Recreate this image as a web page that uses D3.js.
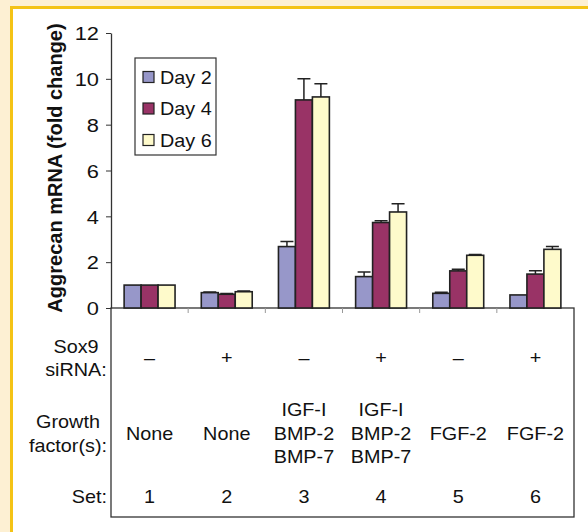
<!DOCTYPE html>
<meta charset="utf-8">
<style>
body { margin: 0; background: #fdf0d3; }
svg text { font-family: "Liberation Sans", Arial, sans-serif; fill: #111; }
.bar { stroke: #222; stroke-width: 1.6px; }
.err { stroke: #222; stroke-width: 1.5px; fill: none; }
</style>
<body>
<script src="https://cdn.jsdelivr.net/npm/d3@7"></script>
<script>

// data
var sets = ["1", "2", "3", "4", "5", "6"];
var days = ["Day 2", "Day 4", "Day 6"];
var day2 = [1.0, 0.67, 2.68, 1.37, 0.64, 0.57];
var day4 = [1.0, 0.60, 9.08, 3.73, 1.62, 1.48];
var day6 = [1.0, 0.71, 9.21, 4.19, 2.30, 2.56];
var err2 = [0, 0.03, 0.22, 0.20, 0.05, 0];
var err4 = [0, 0.03, 0.92, 0.08, 0.07, 0.15];
var err6 = [0, 0.03, 0.58, 0.36, 0.04, 0.12];
var sox9 = ["\u2013", "+", "\u2013", "+", "\u2013", "+"];
var factors = [["None"], ["None"], ["IGF-I", "BMP-2", "BMP-7"], ["IGF-I", "BMP-2", "BMP-7"], ["FGF-2"], ["FGF-2"]];
var yTicks = [0, 2, 4, 6, 8, 10, 12];
var colors = ["#9797c9", "#993366", "#fefacb"];

var W = 588, H = 532;
var plotL = 111, plotR = 574, plotT = 33, plotB = 308, boxBottom = 517;

var svg = d3.select("body").append("svg")
    .attr("width", W)
    .attr("height", H);

// cream background with yellow frame, white panel
svg.append("rect").attr("x", 11).attr("y", 7).attr("width", W - 11).attr("height", H - 7)
    .attr("fill", "#fff");
svg.append("path")
    .attr("d", "M11.5," + H + "V7.5H" + W)
    .attr("fill", "none").attr("stroke", "#f4c316").attr("stroke-width", 3);

// scales
var x0 = d3.scaleBand().domain(sets).range([plotL, plotR]).paddingInner(0.34).paddingOuter(0.17);
var x1 = d3.scaleBand().domain(days).range([0, x0.bandwidth()]);
var y = d3.scaleLinear().domain([0, 12]).range([plotB, plotT]);

var rows = sets.map(function(s, i) {
  return {set: s, vals: [day2[i], day4[i], day6[i]], errs: [err2[i], err4[i], err6[i]]};
});

// table box under the axis
svg.append("rect")
    .attr("x", plotL).attr("y", plotB)
    .attr("width", plotR - plotL).attr("height", boxBottom - plotB)
    .attr("fill", "none").attr("stroke", "#333").attr("stroke-width", 1.3);

// category separators on the x axis
var step = x0.step();
svg.selectAll(".xt").data(sets.slice(1)).enter().append("line")
    .attr("x1", function(d) { return x0(d) - x0.paddingInner() * step / 2; })
    .attr("x2", function(d) { return x0(d) - x0.paddingInner() * step / 2; })
    .attr("y1", plotB).attr("y2", plotB + 5)
    .attr("stroke", "#999").attr("stroke-width", 1);

// y axis
var yAxis = svg.append("g")
    .attr("transform", "translate(" + plotL + ",0)")
    .call(d3.axisLeft(y).tickValues(yTicks).tickSize(5).tickPadding(5).tickSizeOuter(0));
yAxis.attr("font-size", 18.5).attr("font-family", null);
yAxis.select(".domain").attr("stroke", "#333").attr("stroke-width", 1.3);
yAxis.selectAll(".tick line").attr("stroke", "#333");
yAxis.selectAll(".tick text")
    .attr("fill", "#111")
    .attr("x", -10.2)
    .attr("dy", "0.36em")
    .attr("transform", "scale(1.18,1)");

// bars
var groups = svg.selectAll(".grp").data(rows).enter().append("g")
    .attr("transform", function(d) { return "translate(" + x0(d.set) + ",0)"; });

groups.selectAll("rect").data(function(d) {
  return d.vals.map(function(v, j) { return {day: days[j], v: v, e: d.errs[j], c: colors[j]}; });
}).enter().append("rect")
    .attr("class", "bar")
    .attr("x", function(d) { return x1(d.day); })
    .attr("y", function(d) { return y(d.v); })
    .attr("width", x1.bandwidth())
    .attr("height", function(d) { return plotB - y(d.v); })
    .attr("fill", function(d) { return d.c; });

// error bars (upper only)
groups.selectAll(".err").data(function(d) {
  return d.vals.map(function(v, j) { return {day: days[j], v: v, e: d.errs[j]}; })
    .filter(function(d) { return d.e > 0; });
}).enter().append("path")
    .attr("class", "err")
    .attr("d", function(d) {
      var cx = x1(d.day) + x1.bandwidth() / 2;
      return "M" + cx + "," + y(d.v) + "V" + y(d.v + d.e) + "M" + (cx - 6.5) + "," + y(d.v + d.e) + "H" + (cx + 6.5);
    });

// legend
var lg = svg.append("g").attr("transform", "translate(135,58)");
lg.append("rect").attr("width", 81).attr("height", 97)
    .attr("fill", "#fff").attr("stroke", "#333").attr("stroke-width", 1.2);
days.forEach(function(d, i) {
  var cy = 19 + i * 31.5;
  lg.append("rect").attr("x", 8).attr("y", cy - 5.5).attr("width", 11).attr("height", 11)
      .attr("fill", colors[i]).attr("stroke", "#222").attr("stroke-width", 1.2);
  lg.append("text").attr("transform", "translate(25," + (cy + 6.5) + ") scale(1.1,1)")
      .style("font-size", "18px").text(d);
});

// y title
svg.append("text")
    .attr("transform", "translate(62,168) rotate(-90)")
    .attr("text-anchor", "middle")
    .style("font-size", "20px").style("font-weight", "bold")
    .text("Aggrecan mRNA (fold change)");

// table text
function label(x, yy, t, anchor) {
  svg.append("text")
      .attr("transform", "translate(" + x + "," + yy + ") scale(1.1,1)")
      .attr("text-anchor", anchor || "middle")
      .style("font-size", "18px")
      .text(t);
}

label(76, 353, "Sox9");
label(76, 376, "siRNA:");
label(68, 428, "Growth");
label(68, 452, "factor(s):");
label(107, 503, "Set:", "end");

sets.forEach(function(s, i) {
  var cx = x0(s) + x0.bandwidth() / 2;
  label(cx, 364, sox9[i]);
  var f = factors[i];
  var y0 = f.length === 1 ? 440 : 416;
  f.forEach(function(t, k) { label(cx, y0 + k * 23.5, t); });
  label(cx, 503, s);
});

</script>
</body>
